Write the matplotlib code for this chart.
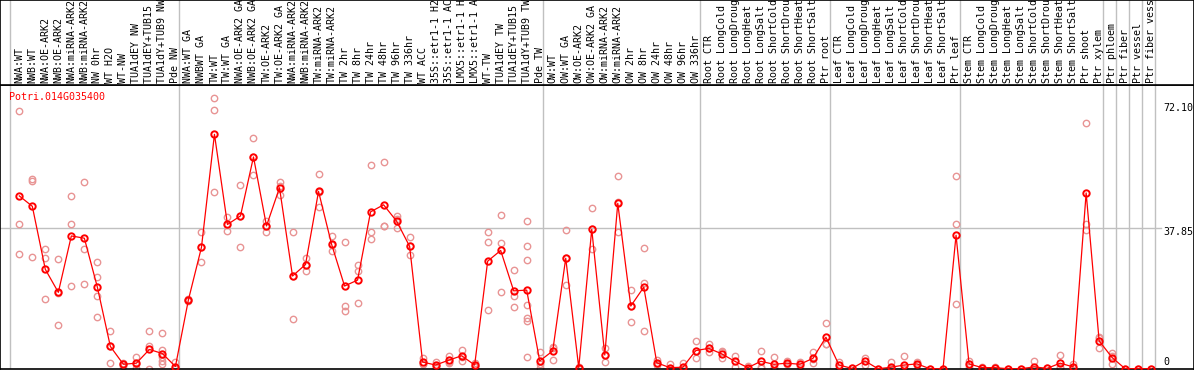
import numpy as np
import matplotlib
matplotlib.use("Agg")
import matplotlib.pyplot as plt
import matplotlib.transforms as mtransforms

# sample labels (columns), left to right
labels = [
    "NWA:WT", "NWB:WT", "NWA:OE-ARK2", "NWB:OE-ARK2", "NWA:miRNA-ARK2", "NWB:miRNA-ARK2",
    "NW 0hr", "WT H2O", "WT-NW", "TUA1dEY NW", "TUA1dEY+TUB15 NW", "TUA1dY+TUB9 NW", "Pde NW",
    "NWA:WT GA", "NWBWT GA", "TW:WT", "TW:WT GA", "NWA:OE-ARK2 GA", "NWB:OE-ARK2 GA",
    "TW:OE-ARK2", "TW:OE-ARK2 GA", "NWA:miRNA-ARK2", "NWB:miRNA-ARK2", "TW:miRNA-ARK2",
    "TW:miRNA-ARK2", "TW 2hr", "TW 8hr", "TW 24hr", "TW 48hr", "TW 96hr", "TW 336hr",
    "WT ACC", "35S::etr1-1 H2O", "35S::etr1-1 ACC", "LMX5::etr1-1 H2O", "LMX5::etr1-1 ACC",
    "WT-TW", "TUA1dEY TW", "TUA1dEY+TUB15 TW", "TUA1dY+TUB9 TW", "Pde TW",
    "OW:WT", "OW:WT GA", "OW:OE-ARK2", "OW:OE-ARK2 GA", "OW:miRNA-ARK2", "OW:miRNA-ARK2",
    "OW 2hr", "OW 8hr", "OW 24hr", "OW 48hr", "OW 96hr", "OW 336hr",
    "Root CTR", "Root LongCold", "Root LongDrought", "Root LongHeat", "Root LongSalt",
    "Root ShortCold", "Root ShortDrought", "Root ShortHeat", "Root ShortSalt", "Ptr root",
    "Leaf CTR", "Leaf LongCold", "Leaf LongDrought", "Leaf LongHeat", "Leaf LongSalt",
    "Leaf ShortCold", "Leaf ShortDrought", "Leaf ShortHeat", "Leaf ShortSalt", "Ptr leaf",
    "Stem CTR", "Stem LongCold", "Stem LongDrought", "Stem LongHeat", "Stem LongSalt",
    "Stem ShortCold", "Stem ShortDrought", "Stem ShortHeat", "Stem ShortSalt", "Ptr shoot",
    "Ptr xylem", "Ptr phloem", "Ptr fiber", "Ptr vessel", "Ptr fiber vessel",
]

# mean expression per sample
means = [
    46.6, 43.8, 26.8, 20.6, 35.8, 35.2, 22.0, 6.0, 1.2, 1.5, 5.2, 4.1, 0.6,
    18.6, 32.7, 63.2, 38.9, 41.2, 57.1, 38.5, 48.8, 25.0, 28.1, 47.8, 33.6,
    22.3, 23.9, 42.3, 44.2, 39.8, 33.0, 1.8, 1.0, 2.3, 3.5, 1.0,
    29.0, 31.9, 21.0, 21.2, 2.1,
    4.8, 29.8, 0.3, 37.6, 3.7, 44.6, 16.9, 22.0, 1.6, 0.3, 0.4, 4.9,
    5.5, 4.0, 2.0, 0.3, 2.0, 1.2, 1.5, 1.2, 2.8, 8.5,
    1.0, 0.1, 2.1, 0.0, 0.4, 1.0, 1.3, 0.0, 0.0, 36.0,
    1.3, 0.3, 0.3, 0.0, 0.0, 0.5, 0.1, 1.5, 0.5, 47.4,
    7.5, 3.0, 0.0, 0.0, 0.0,
]

# individual replicates per sample
reps = [
    [69.5, 38.9, 30.9], [51.1, 50.6, 30.0], [32.2, 29.8, 18.7], [29.5, 20.5, 11.8],
    [46.6, 38.9, 22.3], [50.4, 32.2, 22.8], [28.8, 24.7, 19.5, 13.9], [10.3, 6.2, 1.5],
    [1.6, 1.2, 0.8], [3.2, 1.2, 0.3], [10.1, 6.2, 0.0], [9.6, 5.0, 3.2, 2.2, 1.2],
    [1.9, 0.3, 0.0],
    [18.9, 18.6, 18.3], [36.8, 32.7, 28.7], [72.9, 69.7, 47.6], [40.8, 38.8, 37.2],
    [49.5, 41.2, 32.7], [62.1, 57.1, 52.2], [39.8, 38.5, 36.9], [50.3, 49.4, 46.8],
    [36.8, 25.0, 13.3], [29.9, 28.1, 26.4], [52.5, 47.6, 43.5], [35.9, 33.4, 31.7],
    [34.1, 17.0, 15.6], [27.9, 26.3, 17.6], [54.9, 36.8, 34.9], [55.7, 38.4, 38.4],
    [41.2, 40.3, 38.0], [35.4, 33.0, 30.6], [2.8, 1.2, 1.4], [1.9, 0.7, 0.3],
    [3.4, 1.6, 1.9], [5.0, 2.2, 3.3], [1.6, 0.5, 0.8],
    [36.8, 34.1, 15.8], [41.5, 33.8, 20.6], [26.6, 19.7, 16.6],
    [39.8, 33.0, 29.3, 17.2, 13.6, 13.0, 3.1], [4.6, 0.1, 1.4],
    [5.9, 2.4, 5.5], [37.3, 22.5, 29.8], [0.3, 0.0, 0.5], [43.3, 32.2, 37.6],
    [5.5, 1.8, 3.7], [51.9, 37.0, 45.0], [21.2, 12.5, 16.9], [32.5, 23.1, 10.3],
    [2.3, 1.3, 1.0], [1.3, 0.0], [1.6, 0.0], [7.4, 2.8, 4.9],
    [6.7, 4.6, 5.5], [4.9, 2.8, 4.6], [3.4, 0.5], [0.8, 0.0], [4.9, 0.5, 0.3],
    [3.1, 0.3, 0.1], [2.2, 1.2, 1.2], [1.7, 0.7], [4.4, 1.5, 2.6], [12.2, 6.6, 6.6],
    [1.7, 0.3], [0.1], [3.0, 1.0], [0.0], [1.9, 0.0], [3.4, 0.0, 0.0], [1.9, 1.0],
    [0.0], [0.0], [51.9, 38.9, 17.4],
    [2.1, 0.5], [0.6], [0.5], [0.0], [0.0], [2.1, 0.0], [0.3], [3.7, 0.5, 0.3],
    [1.4, 0.1], [66.2, 38.9, 37.3],
    [8.5, 8.2, 5.5], [4.3, 3.5, 1.2], [0.0], [0.0], [0.0],
]

# group boundaries (column index where a new group starts)
group_starts = [0, 13, 41, 53, 63, 73, 84, 85, 86, 87, 88]
gene = "Potri.014G035400"
tick_vals = [72.10, 37.85, 0]

W, H = 1194, 370
header_px = 85
fig = plt.figure(figsize=(W / 100, H / 100), dpi=100)

xlim = (-1.483, 90.29)
ax = fig.add_axes([0, 0.0014, 1, 1 - header_px / H - 0.0014])
hax = fig.add_axes([0, 1 - header_px / H, 1, header_px / H])

grey = "#c0c0c0"
x = np.arange(len(labels))

# group separators
for a in (ax, hax):
    for g in group_starts:
        a.axvline(g - 0.715, color=grey, lw=1.0, zorder=1)
    a.set_xlim(*xlim)
    a.set_xticks([])
    a.set_yticks([])
    for s in a.spines.values():
        s.set_color("black")
        s.set_linewidth(1.2)

ax.axhline(37.85, xmax=0.972, color=grey, lw=1.0, zorder=1)

for i, r in enumerate(reps):
    ax.plot([i] * len(r), r, "o", ms=4.6, mfc="none", mec="#e89494", mew=1.0, zorder=2)
ax.plot(x, means, "-", color="red", lw=0.9, zorder=3)
ax.plot(x, means, "o", ms=4.6, mfc="none", mec="red", mew=1.4, zorder=4)

ax.set_ylim(-0.2, 76.5)

mono = "DejaVu Sans Mono"
ax.text(9.3 / W, 1 - 12 / 284, gene, transform=ax.transAxes, color="red",
        fontsize=7.2, family=mono, ha="left", va="center")

trans = mtransforms.blended_transform_factory(ax.transAxes, ax.transData)
for v, yv in zip(tick_vals, [70.3, 36.9, 1.8]):
    ax.text(1163 / W, yv, f"{v:.2f}" if v else "0", transform=trans,
            fontsize=7.2, family=mono, ha="left", va="center")

hax.set_ylim(0, 1)
for i, lab in enumerate(labels):
    hax.text(i, 2 / header_px, lab, rotation=90, ha="center", va="bottom",
             fontsize=7.2, family=mono, clip_on=True)

fig.savefig("out.png", dpi=100)
